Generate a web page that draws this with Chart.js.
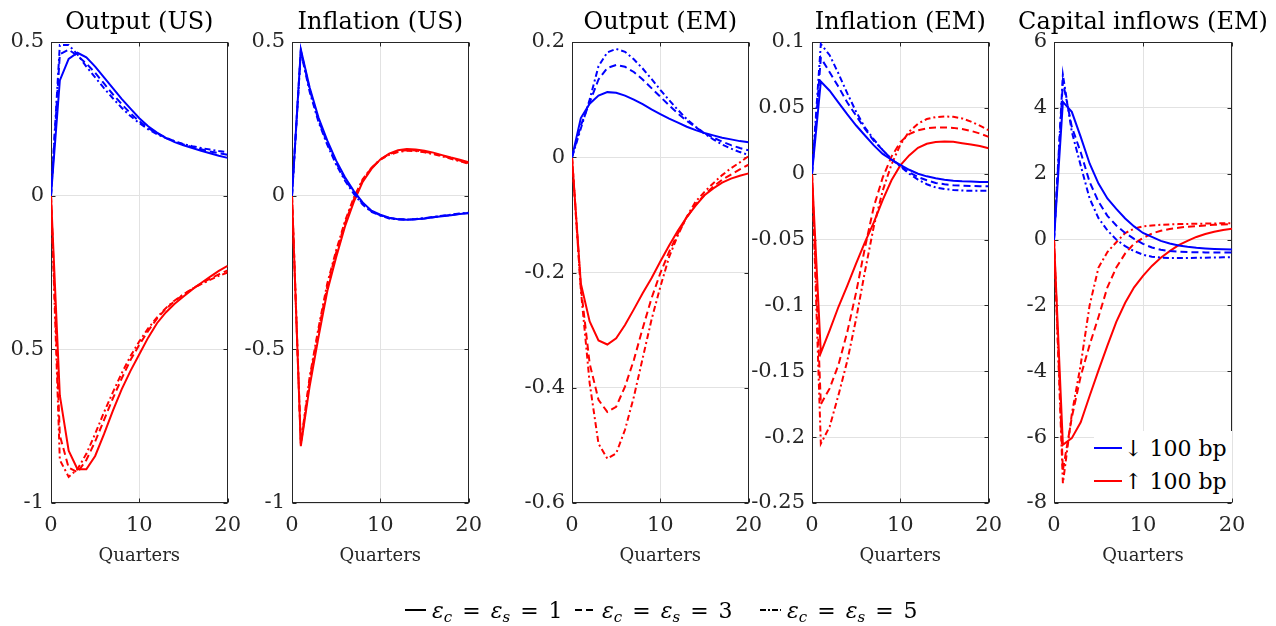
<!DOCTYPE html>
<html>
<head>
<meta charset="utf-8">
<title>Impulse responses</title>
<script src="https://cdn.jsdelivr.net/npm/chart.js@4.4.1/dist/chart.umd.min.js"></script>
<style>
    html, body { margin: 0; padding: 0; background: #fff; }
    #fig { position: relative; width: 1276px; height: 626px; overflow: hidden; font-family: "DejaVu Serif", serif; }
    #fig canvas { position: absolute; top: 0; }
    .box { position: absolute; background: #fff; z-index: 5; }
    .row { position: absolute; left: 0; height: 30px; display: flex; align-items: center; font-size: 22px; color: #000; white-space: nowrap; }
    .row svg { margin-right: 2px; }
    .key { position: absolute; top: 594px; height: 32px; display: flex; align-items: center; font-size: 22px; color: #000; white-space: nowrap; word-spacing: 3px; }
    .key svg { margin-right: 6px; }
    .key i { font-style: italic; }
    .key sub { font-size: 15px; font-style: italic; vertical-align: -4px; line-height: 0; }
</style>
</head>
<body>
<div id="fig">
    <canvas id="chart-0" width="251" height="580" style="left:0px"></canvas>
    <canvas id="chart-1" width="252" height="580" style="left:240px"></canvas>
    <canvas id="chart-2" width="262" height="580" style="left:510px"></canvas>
    <canvas id="chart-3" width="260" height="580" style="left:752px"></canvas>
    <canvas id="chart-4" width="280" height="580" style="left:996px"></canvas>

    <div class="box" style="left:1094px; top:431px; width:138px; height:71px;">
        <div class="row" style="top:2px;">
            <svg width="28" height="4"><line x1="0" y1="2" x2="28" y2="2" stroke="#0000ff" stroke-width="2"/></svg>
            <span id="leg-down"></span>
        </div>
        <div class="row" style="top:35px;">
            <svg width="28" height="4"><line x1="0" y1="2" x2="28" y2="2" stroke="#ff0000" stroke-width="2"/></svg>
            <span id="leg-up"></span>
        </div>
    </div>

    <div class="key" style="left:405px;">
        <svg width="21" height="4"><line x1="0" y1="2" x2="21" y2="2" stroke="#000" stroke-width="2"/></svg>
        <span><i>ε</i><sub>c</sub> = <i>ε</i><sub>s</sub> = <span class="k-val"></span></span>
    </div>
    <div class="key" style="left:575px;">
        <svg width="21" height="4"><line x1="0" y1="2" x2="21" y2="2" stroke="#000" stroke-width="2" stroke-dasharray="7 4"/></svg>
        <span><i>ε</i><sub>c</sub> = <i>ε</i><sub>s</sub> = <span class="k-val"></span></span>
    </div>
    <div class="key" style="left:760px;">
        <svg width="21" height="4"><line x1="0" y1="2" x2="21" y2="2" stroke="#000" stroke-width="2" stroke-dasharray="6 2 2 2"/></svg>
        <span><i>ε</i><sub>c</sub> = <i>ε</i><sub>s</sub> = <span class="k-val"></span></span>
    </div>
</div>

<script>
// horizon (quarters after the shock)
const quarters = [0, 1, 2, 3, 4, 5, 6, 7, 8, 9, 10, 11, 12, 13, 14, 15, 16, 17, 18, 19, 20];
const xTicks = [0, 10, 20];
const xTickLabels = ['0', '10', '20'];

const panelTitles = ['Output (US)', 'Inflation (US)', 'Output (EM)', 'Inflation (EM)', 'Capital inflows (EM)'];
const shockLabels = ['\u2193 100 bp', '\u2191 100 bp'];
const elasticities = ['1', '3', '5'];

// y ticks
const outUsTicks = [-1, -0.5, 0, 0.5];
const outUsTickLabels = ['-1', '0.5', '0', '0.5'];
const infUsTicks = [-1, -0.5, 0, 0.5];
const infUsTickLabels = ['-1', '-0.5', '0', '0.5'];
const outEmTicks = [-0.6, -0.4, -0.2, 0, 0.2];
const outEmTickLabels = ['-0.6', '-0.4', '-0.2', '0', '0.2'];
const infEmTicks = [-0.25, -0.2, -0.15, -0.1, -0.05, 0, 0.05, 0.1];
const infEmTickLabels = ['-0.25', '-0.2', '-0.15', '-0.1', '-0.05', '0', '0.05', '0.1'];
const capTicks = [-8, -6, -4, -2, 0, 2, 4, 6];
const capTickLabels = ['-8', '-6', '-4', '-2', '0', '2', '4', '6'];

// Output (US): down = rate cut, up = rate hike; 1/3/5 = elasticity
const outUsDown1 = [0, 0.375, 0.445, 0.465, 0.45, 0.42, 0.385, 0.35, 0.315, 0.283, 0.252, 0.226, 0.205, 0.188, 0.174, 0.164, 0.155, 0.146, 0.138, 0.13, 0.123];
const outUsDown3 = [0, 0.46, 0.475, 0.455, 0.43, 0.4, 0.365, 0.33, 0.298, 0.268, 0.242, 0.22, 0.203, 0.189, 0.177, 0.167, 0.158, 0.151, 0.144, 0.138, 0.133];
const outUsDown5 = [0, 0.49, 0.49, 0.46, 0.42, 0.385, 0.35, 0.317, 0.286, 0.259, 0.236, 0.216, 0.2, 0.187, 0.177, 0.168, 0.161, 0.155, 0.15, 0.145, 0.141];
const outUsUp1 = [0, -0.65, -0.83, -0.89, -0.89, -0.847, -0.776, -0.7, -0.63, -0.57, -0.516, -0.462, -0.415, -0.38, -0.352, -0.328, -0.305, -0.284, -0.264, -0.245, -0.228];
const outUsUp3 = [0, -0.78, -0.885, -0.9, -0.86, -0.8, -0.73, -0.66, -0.595, -0.535, -0.485, -0.44, -0.4, -0.368, -0.343, -0.322, -0.303, -0.286, -0.27, -0.256, -0.243];
const outUsUp5 = [0, -0.86, -0.915, -0.89, -0.84, -0.775, -0.705, -0.64, -0.578, -0.522, -0.474, -0.432, -0.396, -0.366, -0.341, -0.321, -0.303, -0.288, -0.274, -0.261, -0.25];

// Inflation (US)
const infUsDown1 = [0, 0.476, 0.352, 0.254, 0.179, 0.114, 0.06, 0.015, -0.022, -0.049, -0.062, -0.072, -0.077, -0.078, -0.077, -0.074, -0.07, -0.067, -0.064, -0.06, -0.057];
const infUsDown3 = [0, 0.472, 0.345, 0.246, 0.171, 0.107, 0.054, 0.01, -0.026, -0.051, -0.064, -0.073, -0.077, -0.078, -0.077, -0.074, -0.07, -0.066, -0.063, -0.059, -0.056];
const infUsDown5 = [0, 0.468, 0.338, 0.24, 0.165, 0.101, 0.049, 0.006, -0.029, -0.053, -0.065, -0.074, -0.077, -0.078, -0.076, -0.073, -0.069, -0.065, -0.062, -0.058, -0.055];
const infUsUp1 = [0, -0.815, -0.62, -0.46, -0.31, -0.2, -0.1, -0.02, 0.045, 0.087, 0.118, 0.137, 0.148, 0.152, 0.15, 0.146, 0.14, 0.132, 0.124, 0.117, 0.109];
const infUsUp3 = [0, -0.81, -0.6, -0.44, -0.295, -0.185, -0.09, -0.012, 0.05, 0.09, 0.118, 0.135, 0.145, 0.148, 0.147, 0.143, 0.137, 0.13, 0.122, 0.114, 0.106];
const infUsUp5 = [0, -0.805, -0.59, -0.43, -0.285, -0.178, -0.083, -0.006, 0.053, 0.091, 0.117, 0.133, 0.142, 0.146, 0.145, 0.141, 0.135, 0.128, 0.12, 0.112, 0.104];

// Output (EM)
const outEmDown1 = [0, 0.068, 0.093, 0.107, 0.113, 0.112, 0.107, 0.1, 0.092, 0.083, 0.075, 0.067, 0.06, 0.053, 0.047, 0.042, 0.038, 0.034, 0.031, 0.028, 0.026];
const outEmDown3 = [0, 0.055, 0.095, 0.135, 0.155, 0.16, 0.157, 0.148, 0.135, 0.12, 0.105, 0.09, 0.076, 0.063, 0.052, 0.042, 0.034, 0.027, 0.021, 0.016, 0.012];
const outEmDown5 = [0, 0.05, 0.1, 0.158, 0.182, 0.188, 0.183, 0.17, 0.154, 0.136, 0.117, 0.099, 0.082, 0.066, 0.053, 0.041, 0.031, 0.022, 0.015, 0.009, 0.004];
const outEmUp1 = [0, -0.219, -0.285, -0.318, -0.325, -0.314, -0.291, -0.264, -0.236, -0.21, -0.181, -0.153, -0.127, -0.104, -0.084, -0.066, -0.054, -0.044, -0.037, -0.032, -0.028];
const outEmUp3 = [0, -0.225, -0.358, -0.421, -0.442, -0.433, -0.398, -0.352, -0.297, -0.245, -0.201, -0.164, -0.132, -0.104, -0.082, -0.065, -0.051, -0.039, -0.03, -0.021, -0.013];
const outEmUp5 = [0, -0.23, -0.392, -0.497, -0.523, -0.514, -0.473, -0.416, -0.349, -0.282, -0.225, -0.173, -0.135, -0.103, -0.077, -0.06, -0.045, -0.031, -0.019, -0.009, 0.002];

// Inflation (EM)
const infEmDown1 = [0, 0.07, 0.063, 0.054, 0.045, 0.0366, 0.029, 0.0215, 0.015, 0.0106, 0.0068, 0.003, 0, -0.002, -0.0035, -0.0045, -0.0053, -0.0058, -0.006, -0.0062, -0.0063];
const infEmDown3 = [0, 0.088, 0.077, 0.066, 0.054, 0.044, 0.034, 0.025, 0.018, 0.011, 0.006, 0.001, -0.0025, -0.005, -0.007, -0.008, -0.0088, -0.0091, -0.0093, -0.0095, -0.0096];
const infEmDown5 = [0, 0.0985, 0.09, 0.076, 0.061, 0.047, 0.035, 0.026, 0.018, 0.011, 0.0055, 0, -0.0045, -0.008, -0.0104, -0.0116, -0.0124, -0.0128, -0.013, -0.013, -0.013];
const infEmUp1 = [0, -0.136, -0.119, -0.101, -0.085, -0.068, -0.052, -0.037, -0.02, -0.005, 0.0063, 0.0139, 0.0197, 0.0227, 0.024, 0.0245, 0.0242, 0.0232, 0.0222, 0.021, 0.0194];
const infEmUp3 = [0, -0.175, -0.163, -0.145, -0.12, -0.09, -0.056, -0.025, -0.003, 0.013, 0.024, 0.03, 0.033, 0.0345, 0.035, 0.0351, 0.0348, 0.034, 0.0325, 0.0305, 0.028];
const infEmUp5 = [0, -0.205, -0.192, -0.168, -0.142, -0.11, -0.074, -0.04, -0.013, 0.007, 0.022, 0.032, 0.038, 0.0415, 0.043, 0.0435, 0.0432, 0.042, 0.0395, 0.0365, 0.033];

// Capital inflows (EM)
const capDown1 = [0, 4.18, 3.88, 3.12, 2.31, 1.7, 1.25, 0.93, 0.64, 0.4, 0.2, 0.08, -0.04, -0.12, -0.18, -0.22, -0.25, -0.27, -0.285, -0.295, -0.3];
const capDown3 = [0, 4.8, 3.42, 2.65, 1.75, 1.15, 0.72, 0.43, 0.2, 0.02, -0.13, -0.24, -0.31, -0.35, -0.37, -0.38, -0.385, -0.39, -0.39, -0.39, -0.39];
const capDown5 = [0, 5.0, 3.27, 2.25, 1.25, 0.65, 0.28, 0.0, -0.2, -0.35, -0.46, -0.52, -0.55, -0.56, -0.56, -0.56, -0.555, -0.55, -0.545, -0.54, -0.535];
const capUp1 = [0, -6.23, -6.03, -5.55, -4.75, -3.97, -3.22, -2.5, -1.92, -1.45, -1.1, -0.8, -0.55, -0.35, -0.17, -0.04, 0.08, 0.17, 0.24, 0.29, 0.33];
const capUp3 = [0, -7.0, -5.4, -4.15, -3.2, -2.35, -1.45, -0.85, -0.42, -0.12, 0.05, 0.18, 0.27, 0.32, 0.36, 0.39, 0.41, 0.43, 0.45, 0.46, 0.47];
const capUp5 = [0, -7.4, -5.3, -3.8, -2.0, -0.85, -0.38, -0.08, 0.2, 0.33, 0.4, 0.43, 0.45, 0.46, 0.47, 0.475, 0.48, 0.485, 0.49, 0.495, 0.5];

const axisGrey = '#262626';
const gridGrey = '#e2e2e2';
const BLUE = '#0000ff';
const RED = '#ff0000';
const dashes = [[], [7, 4], [6, 3, 2, 3]];

// MATLAB-like box with inward ticks
const axesFrame = {
    id: 'axesFrame',
    beforeDatasetsDraw(chart) {
        const {ctx, chartArea: a, scales} = chart;
        const l = Math.round(a.left) + 0.5, r = Math.round(a.right) - 0.5;
        const t = Math.round(a.top) + 0.5, b = Math.round(a.bottom) - 0.5;
        ctx.save();
        ctx.strokeStyle = axisGrey;
        ctx.lineWidth = 1;
        ctx.strokeRect(l, t, r - l, b - t);
        ctx.beginPath();
        scales.y.ticks.forEach(function (tk) {
            const py = Math.round(scales.y.getPixelForValue(tk.value)) + 0.5;
            ctx.moveTo(l, py); ctx.lineTo(l + 4, py);
            ctx.moveTo(r, py); ctx.lineTo(r - 4, py);
        });
        scales.x.ticks.forEach(function (tk) {
            const px = Math.round(scales.x.getPixelForValue(tk.value)) + 0.5;
            ctx.moveTo(px, b); ctx.lineTo(px, b - 4);
            ctx.moveTo(px, t); ctx.lineTo(px, t + 4);
        });
        ctx.stroke();
        ctx.restore();
    }
};

const panelTitle = {
    id: 'panelTitle',
    afterDraw(chart, args, opts) {
        const {ctx, chartArea: a} = chart;
        ctx.save();
        ctx.font = '24px "DejaVu Serif"';
        ctx.fillStyle = '#000';
        ctx.textAlign = 'center';
        ctx.textBaseline = 'alphabetic';
        ctx.fillText(opts.text, (a.left + a.right) / 2, 29);
        ctx.restore();
    }
};

function createChart(canvasId, title, series, yTicks, yTickLabels, yAxisWidth, padRight) {
    const ctx = document.getElementById(canvasId);
    const colors = [BLUE, BLUE, BLUE, RED, RED, RED];
    const datasets = series.map(function (values, i) {
        return {
            data: values,
            borderColor: colors[i],
            borderWidth: 2,
            borderDash: dashes[i % 3],
            pointRadius: 0,
            tension: 0,
            fill: false
        };
    });

    return new Chart(ctx, {
        type: 'line',
        data: {
            labels: quarters,
            datasets: datasets
        },
        options: {
            responsive: false,
            animation: false,
            devicePixelRatio: 1,
            layout: { padding: { top: 42, right: padRight, bottom: 0, left: 0 } },
            plugins: {
                legend: { display: false },
                tooltip: { enabled: false },
                panelTitle: { text: title }
            },
            scales: {
                x: {
                    type: 'linear',
                    min: 0,
                    max: 20,
                    afterBuildTicks: function (scale) {
                        scale.ticks = xTicks.map(function (v) { return { value: v }; });
                    },
                    afterFit: function (scale) { scale.height = 77; },
                    ticks: {
                        padding: 10,
                        maxRotation: 0,
                        color: axisGrey,
                        font: { family: 'DejaVu Serif', size: 21 },
                        callback: function (value, index) { return xTickLabels[index]; }
                    },
                    grid: { color: gridGrey, drawTicks: false },
                    border: { display: false },
                    title: {
                        display: true,
                        text: 'Quarters',
                        color: axisGrey,
                        font: { family: 'DejaVu Serif', size: 18 },
                        padding: { top: 4, bottom: 13 }
                    }
                },
                y: {
                    type: 'linear',
                    min: yTicks[0],
                    max: yTicks[yTicks.length - 1],
                    afterBuildTicks: function (scale) {
                        scale.ticks = yTicks.map(function (v) { return { value: v }; });
                    },
                    afterFit: function (scale) { scale.width = yAxisWidth; },
                    ticks: {
                        padding: 7,
                        color: axisGrey,
                        font: { family: 'DejaVu Serif', size: 21 },
                        callback: function (value, index) { return yTickLabels[index]; }
                    },
                    grid: { color: gridGrey, drawTicks: false },
                    border: { display: false }
                }
            }
        },
        plugins: [axesFrame, panelTitle]
    });
}

window.myCharts = {};
window.myCharts['chart-0'] = createChart('chart-0', panelTitles[0],
    [outUsDown1, outUsDown3, outUsDown5, outUsUp1, outUsUp3, outUsUp5], outUsTicks, outUsTickLabels, 51, 22);
window.myCharts['chart-1'] = createChart('chart-1', panelTitles[1],
    [infUsDown1, infUsDown3, infUsDown5, infUsUp1, infUsUp3, infUsUp5], infUsTicks, infUsTickLabels, 52, 22);
window.myCharts['chart-2'] = createChart('chart-2', panelTitles[2],
    [outEmDown1, outEmDown3, outEmDown5, outEmUp1, outEmUp3, outEmUp5], outEmTicks, outEmTickLabels, 62, 22);
window.myCharts['chart-3'] = createChart('chart-3', panelTitles[3],
    [infEmDown1, infEmDown3, infEmDown5, infEmUp1, infEmUp3, infEmUp5], infEmTicks, infEmTickLabels, 60, 22);
window.myCharts['chart-4'] = createChart('chart-4', panelTitles[4],
    [capDown1, capDown3, capDown5, capUp1, capUp3, capUp5], capTicks, capTickLabels, 58, 44);

document.getElementById('leg-down').textContent = shockLabels[0];
document.getElementById('leg-up').textContent = shockLabels[1];
document.querySelectorAll('.k-val').forEach(function (el, i) {
    el.textContent = elasticities[i];
});
</script>
</body>
</html>
